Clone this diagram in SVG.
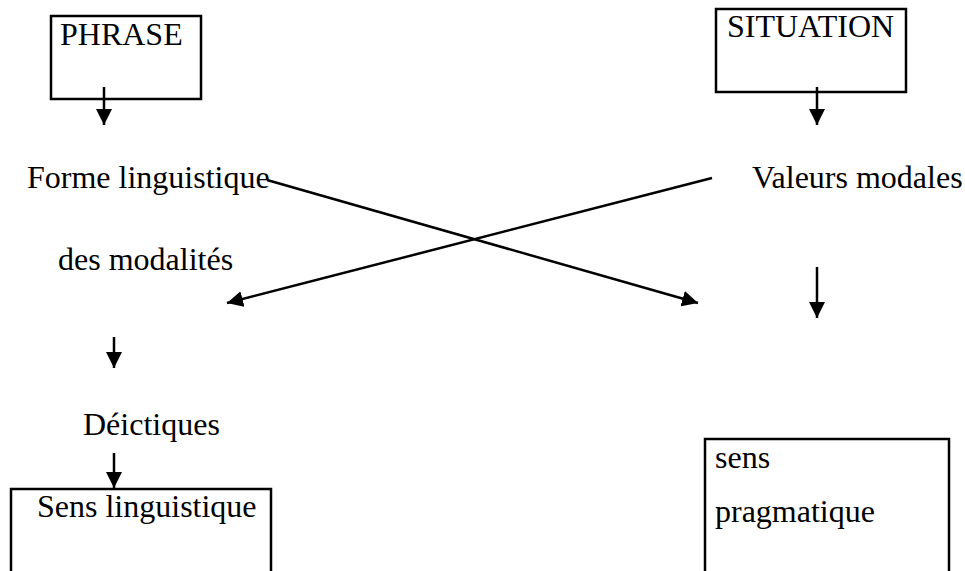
<svg xmlns="http://www.w3.org/2000/svg" width="965" height="571" viewBox="0 0 965 571">
<style>
.box{fill:none;stroke:#000;stroke-width:2.5}
.t{font-family:"Liberation Serif","Times New Roman",serif;font-size:32px;fill:#000}
.c{stroke:#000;stroke-width:2.5;fill:none;marker-end:url(#ah)}
</style>
<defs>
<marker id="ah" markerUnits="userSpaceOnUse" markerWidth="17" markerHeight="16" refX="15" refY="7.5" orient="auto" viewBox="0 0 16 15">
<path d="M0,0 L15,7.5 L0,15 z" fill="#000"/>
</marker>
</defs>
<rect width="965" height="571" fill="#fff"/>
<g id="phrase"><rect class="box" x="51" y="16" width="150" height="83"/><text class="t" x="60" y="45">PHRASE</text></g>
<g id="situation"><rect class="box" x="716" y="9" width="190" height="83"/><text class="t" x="727" y="37">SITUATION</text></g>
<g id="forme"><text class="t" x="27" y="188">Forme linguistique</text><text class="t" x="58" y="270">des modalités</text></g>
<g id="valeurs"><text class="t" x="752" y="188">Valeurs modales</text></g>
<g id="deictiques"><text class="t" x="83" y="435">Déictiques</text></g>
<g id="sens-linguistique"><path class="box" d="M11,575 V489 H271 V575"/><text class="t" x="37" y="517">Sens linguistique</text></g>
<g id="sens-pragmatique"><path class="box" d="M705,575 V439 H949 V575"/><text class="t" x="715" y="468">sens</text><text class="t" x="715" y="522">pragmatique</text></g>
<g id="connectors">
<line class="c" x1="104" y1="87" x2="104" y2="125"/>
<line class="c" x1="817" y1="87" x2="817" y2="125"/>
<line class="c" x1="267" y1="180" x2="698" y2="303"/>
<line class="c" x1="712" y1="178" x2="227" y2="303"/>
<line class="c" x1="817" y1="267" x2="817" y2="318"/>
<line class="c" x1="114" y1="337" x2="114" y2="368"/>
<line class="c" x1="114" y1="453" x2="114" y2="488"/>
</g>
</svg>
